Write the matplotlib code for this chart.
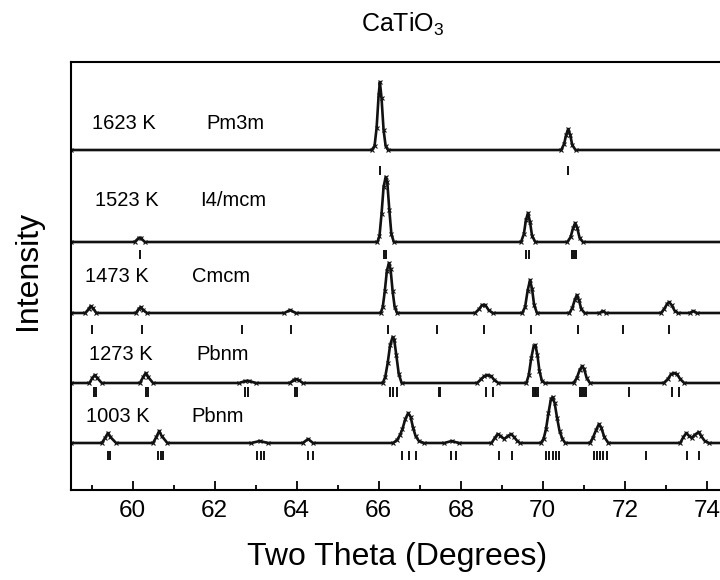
import matplotlib
matplotlib.use('Agg')
from matplotlib import pyplot as plt

plt.rcParams['font.family'] = ['Liberation Sans', 'DejaVu Sans']
plt.rcParams['mathtext.fontset'] = 'custom'
plt.rcParams['mathtext.rm'] = 'Liberation Sans'
plt.rcParams['mathtext.it'] = 'Liberation Sans'

tt_1623 = [58.5, 65.83, 65.9, 65.95, 66.0, 66.03, 66.07, 66.12, 66.17, 66.23,
           70.45, 70.52, 70.57, 70.62, 70.67, 70.72, 70.8, 74.4]
I_1623 = [0, 0, 4, 22, 55, 68, 52, 20, 4, 0,
          0, 6, 15, 21, 15, 5, 0, 0]

tt_1523 = [58.5, 60.05, 60.15, 60.2, 60.3, 65.97, 66.02, 66.07, 66.12, 66.17, 66.21,
           66.26, 66.31, 66.37, 69.47, 69.54, 69.59, 69.64, 69.69, 69.74, 69.82,
           70.6, 70.68, 70.74, 70.79, 70.84, 70.9, 70.98, 74.4]
I_1523 = [0, 0, 4, 4, 0, 0, 6, 28, 55, 65, 60,
          32, 8, 0, 0, 8, 22, 29, 20, 6, 0,
          0, 5, 14, 19, 14, 4, 0, 0]

tt_1473 = [58.5, 58.85, 58.93, 58.98, 59.03, 59.12, 60.08, 60.15, 60.2, 60.26, 60.35,
           63.7, 63.84, 63.98, 66.05, 66.1, 66.15, 66.2, 66.25, 66.29, 66.34, 66.39, 66.45,
           68.35, 68.45, 68.52, 68.6, 68.68, 68.78, 69.5, 69.57, 69.63, 69.69, 69.74, 69.79,
           69.86, 70.65, 70.72, 70.78, 70.83, 70.88, 70.94, 71.02, 71.38, 71.46, 71.54,
           72.88, 72.96, 73.03, 73.08, 73.14, 73.22, 73.3, 73.58, 73.67, 73.76, 74.4]
I_1473 = [0, 0, 4, 7, 5, 0, 0, 4, 6, 3, 0,
          0, 3, 0, 0, 6, 22, 42, 50, 44, 22, 6, 0,
          0, 4, 8, 8, 3, 0, 0, 6, 22, 33, 24, 8,
          0, 0, 5, 13, 18, 13, 4, 0, 0, 2, 0,
          0, 4, 9, 11, 8, 2, 0, 0, 2, 0, 0]

tt_1273 = [58.5, 58.95, 59.02, 59.08, 59.14, 59.25, 60.18, 60.26, 60.32, 60.38, 60.5,
           62.6, 62.75, 62.85, 63.0, 63.83, 63.93, 63.98, 64.05, 64.15,
           66.1, 66.16, 66.22, 66.28, 66.34, 66.38, 66.43, 66.49, 66.56,
           68.4, 68.5, 68.58, 68.65, 68.74, 68.82, 68.92,
           69.6, 69.66, 69.72, 69.78, 69.82, 69.87, 69.92, 69.98, 70.05,
           70.75, 70.83, 70.9, 70.96, 71.01, 71.07, 71.15,
           72.95, 73.05, 73.13, 73.2, 73.27, 73.35, 73.45, 74.4]
I_1273 = [0, 0, 5, 8, 5, 0, 0, 6, 10, 6, 0,
          0, 2, 2, 0, 0, 3, 4, 3, 0,
          0, 6, 20, 38, 46, 43, 28, 9, 0,
          0, 4, 7, 8, 7, 3, 0,
          0, 8, 25, 37, 38, 28, 12, 2, 0,
          0, 5, 13, 17, 14, 5, 0,
          0, 4, 9, 10, 9, 4, 0, 0]

tt_1003 = [58.5, 59.25, 59.33, 59.4, 59.46, 59.6, 60.5, 60.58, 60.65, 60.71, 60.85,
           62.9, 63.1, 63.3, 64.15, 64.28, 64.4,
           66.35, 66.45, 66.52, 66.58, 66.65, 66.72, 66.78, 66.84, 66.9, 66.98, 67.1,
           67.6, 67.78, 67.95, 68.75, 68.83, 68.9, 68.97, 69.06, 69.15, 69.23, 69.3,
           69.38, 69.45, 69.95, 70.02, 70.08, 70.14, 70.2, 70.24, 70.29, 70.35, 70.41,
           70.48, 70.55, 71.15, 71.22, 71.3, 71.37, 71.43, 71.5, 71.6,
           73.35, 73.43, 73.5, 73.57, 73.63, 73.7, 73.8, 73.86, 73.95, 74.05, 74.4]
I_1003 = [0, 0, 5, 10, 6, 0, 0, 6, 12, 7, 0,
          0, 2, 0, 0, 4, 0,
          0, 3, 8, 14, 24, 30, 26, 15, 7, 2, 0,
          0, 2, 0, 0, 5, 9, 7, 4, 7, 9, 6,
          2, 0, 0, 4, 14, 30, 44, 46, 40, 25, 12,
          4, 0, 0, 5, 13, 19, 15, 6, 0,
          0, 6, 10, 7, 5, 8, 11, 7, 2, 0, 0]

# calculated reflection positions (2theta)
refl_1623 = [66.03, 70.62]
refl_1523 = [60.18, 66.13, 66.19, 69.6, 69.66, 70.72, 70.76, 70.8]
refl_1473 = [59.01, 60.24, 62.68, 63.87, 66.23, 67.42, 68.57, 69.71, 70.85, 71.95, 73.09]
refl_1273 = [59.06, 59.1, 60.33, 60.37, 62.75, 62.82, 63.95, 64.02, 66.28, 66.36, 66.45,
             67.46, 67.5, 68.62, 68.78, 69.76, 69.8, 69.84, 69.88, 70.9, 70.95, 71.0,
             71.05, 72.11, 73.15, 73.31]
refl_1003 = [59.39, 59.45, 60.63, 60.69, 60.75, 63.04, 63.12, 63.2, 64.28, 64.4,
             66.58, 66.75, 66.91, 67.76, 67.88, 68.93, 69.24, 70.08, 70.16, 70.24,
             70.32, 70.4, 71.24, 71.32, 71.4, 71.48, 71.56, 72.52, 73.51, 73.82]

temps = ['1623 K', '1523 K', '1473 K', '1273 K', '1003 K']
groups = ['Pm3m', 'I4/mcm', 'Cmcm', 'Pbnm', 'Pbnm']

patterns = [(tt_1623, I_1623), (tt_1523, I_1523), (tt_1473, I_1473),
            (tt_1273, I_1273), (tt_1003, I_1003)]
reflections = [refl_1623, refl_1523, refl_1473, refl_1273, refl_1003]

# layout: vertical offsets, tick rows, label positions
offsets = [340, 248, 177, 107, 47]
tick_rows = [(315, 324), (231, 240), (156, 165), (93, 103), (30, 39)]
label_y = [367, 290, 213, 135, 73]
temp_x = [59.01, 59.08, 58.84, 58.93, 58.86]
group_x = [61.8, 61.64, 61.44, 61.56, 61.44]

fig = plt.figure(figsize=(7.2, 5.8), dpi=100)
ax = fig.add_axes([71 / 720, 90 / 580, 651 / 720, 428 / 580])

for (tt, inten), off, refl, rows in zip(patterns, offsets, reflections, tick_rows):
    ax.plot(tt, [v + off for v in inten], color='#111111', lw=1.9,
            marker='x', ms=2.5, mew=0.8)
    ax.vlines(refl, rows[0], rows[1], color='#111111', lw=1.4)

for t, g, y, tx, gx in zip(temps, groups, label_y, temp_x, group_x):
    ax.text(tx, y, t, fontsize=14.5, va='center', ha='left')
    ax.text(gx, y, g, fontsize=14.5, va='center', ha='left')

ax.set_xlim(58.5, 74.37)
ax.set_ylim(0, 428)
ax.set_xticks(range(60, 75, 2))
ax.set_xticks(range(59, 75, 1), minor=True)
ax.set_yticks([])
ax.tick_params(axis='x', which='major', direction='in', length=6.5, width=1.3,
               labelsize=17.5, pad=7)
ax.tick_params(axis='x', which='minor', direction='in', length=3.6, width=1.3)
for s in ['left', 'bottom', 'top']:
    ax.spines[s].set_linewidth(1.5)
ax.spines['right'].set_visible(False)

fig.text(403 / 720, 1 - 24 / 580, 'CaTiO$_3$', fontsize=18, ha='center', va='center')
fig.text(397 / 720, 1 - 557 / 580, 'Two Theta (Degrees)', fontsize=23,
         ha='center', va='center')
fig.text(28 / 720, 1 - 270 / 580, 'Intensity', fontsize=23, rotation=90,
         ha='center', va='center')

plt.savefig('out.png', dpi=100)
